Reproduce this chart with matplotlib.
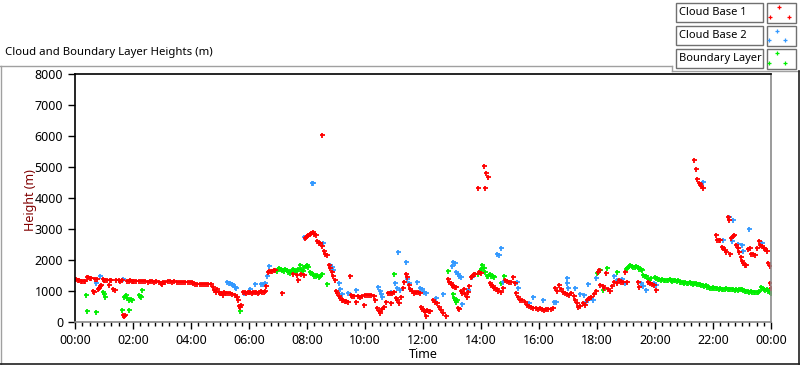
import matplotlib.pyplot as plt
from matplotlib.patches import Rectangle
from matplotlib.lines import Line2D
import numpy as np

plt.rcParams['font.family'] = ['Noto Sans', 'DejaVu Sans']

# (hour of day, height m)
red_pts = [
    (0.00, 1400), (0.05, 1390), (0.10, 1370), (0.15, 1350), (0.20, 1330), (0.25, 1320), (0.30, 1310),
    (0.35, 1330), (0.40, 1440), (0.45, 1450), (0.50, 1430), (0.55, 1420), (0.62, 1000), (0.66, 960),
    (0.70, 1400), (0.75, 1390), (0.78, 1050), (0.82, 1100), (0.86, 1150), (0.90, 1190), (0.95, 1380),
    (1.00, 1360), (1.05, 1350), (1.10, 1340), (1.17, 1190), (1.20, 1350), (1.25, 1340), (1.32, 1060),
    (1.38, 1040), (1.42, 1350), (1.50, 1340), (1.55, 1330), (1.62, 1340), (1.66, 230), (1.70, 200),
    (1.74, 240), (1.78, 1330), (1.85, 1320), (1.90, 1340), (1.95, 1330), (2.00, 1320), (2.05, 1330),
    (2.12, 1320), (2.20, 1310), (2.28, 1330), (2.35, 1320), (2.42, 1310), (2.50, 1300), (2.58, 1320),
    (2.65, 1310), (2.72, 1300), (2.80, 1310), (2.88, 1290), (2.95, 1250), (3.00, 1230), (3.05, 1280),
    (3.12, 1300), (3.20, 1320), (3.28, 1310), (3.35, 1300), (3.42, 1310), (3.50, 1300), (3.58, 1290),
    (3.65, 1300), (3.72, 1290), (3.80, 1300), (3.88, 1290), (3.95, 1280), (4.02, 1290), (4.08, 1270),
    (4.15, 1230), (4.22, 1220), (4.30, 1230), (4.38, 1220), (4.45, 1230), (4.52, 1220), (4.60, 1230),
    (4.68, 1220), (4.75, 1130), (4.80, 1040), (4.85, 960), (4.90, 1080), (4.95, 960), (5.00, 950),
    (5.05, 920), (5.10, 880), (5.15, 960), (5.20, 940), (5.28, 920), (5.35, 940), (5.42, 900),
    (5.50, 860), (5.58, 820), (5.62, 720), (5.66, 530), (5.70, 480), (5.74, 560), (5.80, 980),
    (5.85, 960), (5.90, 950), (5.95, 970), (6.00, 980), (6.05, 960), (6.10, 950), (6.15, 970),
    (6.20, 980), (6.25, 960), (6.30, 950), (6.35, 980), (6.40, 990), (6.45, 970), (6.50, 960),
    (6.55, 990), (6.60, 1150), (6.65, 1620), (6.70, 1650), (6.75, 1640), (6.80, 1660), (6.85, 1680),
    (6.90, 1690), (7.15, 950), (7.50, 1550), (7.65, 1520), (7.70, 1350), (7.80, 1550), (7.88, 1520),
    (7.92, 2700), (7.95, 2750), (8.00, 2760), (8.05, 2800), (8.10, 2850), (8.15, 2870), (8.20, 2890),
    (8.25, 2850), (8.30, 2800), (8.35, 2600), (8.40, 2560), (8.45, 2540), (8.53, 6030), (8.52, 2450),
    (8.58, 2300), (8.62, 2200), (8.68, 2150), (8.75, 1850), (8.80, 1750), (8.85, 1600), (8.90, 1500),
    (8.95, 1350), (9.00, 1000), (9.05, 950), (9.10, 850), (9.15, 780), (9.20, 720), (9.25, 700),
    (9.30, 680), (9.35, 670), (9.40, 650), (9.48, 1480), (9.52, 860), (9.55, 850), (9.62, 830),
    (9.70, 650), (9.75, 840), (9.82, 820), (9.88, 850), (9.95, 550), (10.00, 870), (10.08, 880),
    (10.15, 870), (10.22, 860), (10.30, 850), (10.35, 700), (10.42, 450), (10.48, 350), (10.52, 300),
    (10.58, 420), (10.65, 500), (10.72, 650), (10.78, 930), (10.85, 950), (10.88, 620), (10.92, 920),
    (11.00, 960), (11.08, 770), (11.12, 720), (11.18, 620), (11.25, 800), (11.32, 1100), (11.36, 1300),
    (11.40, 1550), (11.45, 1450), (11.50, 1200), (11.55, 1080), (11.62, 1000), (11.68, 950),
    (11.75, 980), (11.82, 960), (11.88, 950), (11.92, 480), (11.98, 420), (12.02, 380), (12.08, 330),
    (12.10, 190), (12.15, 400), (12.20, 350), (12.25, 370), (12.35, 700), (12.42, 650), (12.48, 610),
    (12.55, 500), (12.62, 400), (12.70, 300), (12.78, 200), (12.85, 1400), (12.90, 1300), (12.95, 1250),
    (13.00, 1200), (13.05, 1150), (13.10, 1140), (13.15, 1120), (13.20, 460), (13.25, 420),
    (13.30, 1000), (13.35, 950), (13.40, 1050), (13.45, 900), (13.50, 820), (13.55, 980), (13.60, 1150),
    (13.65, 1450), (13.70, 1500), (13.75, 1550), (13.80, 1560), (13.88, 4320), (13.92, 1600),
    (14.00, 1580), (14.10, 5030), (14.15, 4320), (14.18, 4800), (14.25, 4680), (14.30, 1260),
    (14.35, 1200), (14.40, 1150), (14.45, 1100), (14.50, 1080), (14.55, 1050), (14.60, 1000),
    (14.68, 970), (14.75, 1100), (14.82, 1350), (14.90, 1330), (14.98, 1300), (15.05, 1280),
    (15.10, 1450), (15.18, 1270), (15.22, 950), (15.28, 800), (15.35, 720), (15.42, 700), (15.50, 660),
    (15.58, 560), (15.65, 520), (15.72, 480), (15.80, 450), (15.88, 440), (15.95, 420), (16.02, 450),
    (16.10, 410), (16.18, 400), (16.25, 430), (16.32, 410), (16.40, 420), (16.48, 450), (16.55, 1100),
    (16.62, 1000), (16.68, 1200), (16.75, 1050), (16.82, 970), (16.90, 950), (16.98, 900), (17.05, 880),
    (17.12, 930), (17.20, 850), (17.25, 700), (17.30, 600), (17.35, 480), (17.42, 520), (17.50, 600),
    (17.58, 550), (17.65, 700), (17.72, 780), (17.80, 820), (17.88, 900), (17.95, 1000), (18.02, 1600),
    (18.06, 1680), (18.12, 1200), (18.20, 1150), (18.25, 1100), (18.32, 1580), (18.38, 1050),
    (18.45, 1000), (18.52, 1150), (18.60, 1300), (18.68, 1270), (18.75, 1350), (18.82, 1300),
    (18.90, 1280), (18.98, 1600), (19.05, 1300), (19.40, 1290), (19.45, 1130), (19.75, 1290),
    (19.82, 1250), (19.90, 1220), (19.95, 1190), (20.02, 1030), (21.35, 5230), (21.40, 4940),
    (21.45, 4600), (21.50, 4500), (21.55, 4450), (21.60, 4380), (21.65, 4320), (22.10, 2800),
    (22.15, 2650), (22.20, 2650), (22.25, 2640), (22.30, 2420), (22.35, 2380), (22.40, 2320),
    (22.45, 2260), (22.50, 3390), (22.55, 3300), (22.60, 2200), (22.62, 2700), (22.68, 2760),
    (22.72, 2820), (22.80, 2500), (22.85, 2400), (22.90, 2260), (22.95, 2100), (23.00, 1980),
    (23.05, 1900), (23.10, 1850), (23.15, 1830), (23.22, 2350), (23.28, 2400), (23.32, 2200),
    (23.38, 2180), (23.45, 2150), (23.52, 2400), (23.58, 2600), (23.62, 2500), (23.70, 2450),
    (23.75, 2400), (23.80, 2350), (23.85, 2300), (23.90, 1900), (23.95, 1800), (23.97, 1250),
    (23.99, 1100),
]

blue_pts = [
    (0.72, 1260), (0.86, 1480), (1.65, 1390), (5.25, 1290), (5.30, 1270), (5.35, 1250), (5.40, 1220),
    (5.45, 1180), (5.50, 1130), (5.55, 1100), (5.82, 940), (6.05, 1060), (6.22, 1230), (6.40, 1230),
    (6.48, 1240), (6.55, 1250), (6.62, 1480), (6.68, 1810), (7.90, 2740), (8.18, 4480), (8.22, 4480),
    (8.55, 2550), (8.80, 1840), (8.85, 1760), (8.90, 1680), (9.10, 1260), (9.15, 1050), (9.20, 900),
    (9.40, 940), (9.70, 1030), (10.45, 1130), (10.50, 1000), (10.55, 900), (10.60, 820), (10.90, 970),
    (11.05, 1260), (11.10, 1100), (11.15, 2260), (11.20, 1030), (11.40, 1940), (11.45, 1400),
    (11.50, 1250), (11.55, 1050), (11.80, 1290), (11.90, 1100), (11.95, 1050), (12.05, 960),
    (12.10, 940), (12.45, 770), (12.70, 900), (13.00, 1800), (13.05, 1940), (13.10, 1900),
    (13.15, 1600), (13.20, 1560), (13.25, 1500), (13.30, 1450), (13.35, 580), (13.55, 1030),
    (13.70, 1450), (14.55, 2200), (14.62, 2160), (14.70, 2390), (14.75, 1290), (15.25, 1290),
    (15.28, 1100), (15.65, 610), (15.80, 800), (16.15, 700), (16.50, 650), (16.60, 650), (16.95, 1420),
    (16.98, 1260), (17.00, 1100), (17.25, 1100), (17.40, 900), (17.55, 870), (17.62, 650),
    (17.70, 1230), (17.75, 780), (17.85, 700), (17.95, 1420), (18.60, 1500), (18.70, 1350),
    (18.85, 1400), (18.95, 1260), (19.50, 1260), (19.60, 1150), (19.70, 1030), (19.95, 1260),
    (20.05, 1190), (21.65, 4520), (22.35, 2650), (22.55, 3390), (22.65, 2610), (22.70, 3290),
    (22.85, 2520), (23.00, 2480), (23.02, 2290), (23.25, 3000), (23.70, 2550),
]

green_pts = [
    (0.38, 870), (0.40, 350), (0.72, 320), (0.97, 970), (1.00, 900), (1.04, 800), (1.62, 390),
    (1.70, 800), (1.75, 870), (1.80, 780), (1.85, 720), (1.87, 390), (1.92, 750), (1.95, 720),
    (2.20, 870), (2.25, 840), (2.28, 820), (2.30, 1030), (5.70, 350), (6.95, 1650), (7.00, 1700),
    (7.05, 1750), (7.10, 1720), (7.15, 1680), (7.20, 1650), (7.25, 1700), (7.30, 1680), (7.35, 1600),
    (7.40, 1580), (7.45, 1650), (7.50, 1700), (7.55, 1680), (7.60, 1620), (7.65, 1650), (7.70, 1700),
    (7.75, 1840), (7.80, 1700), (7.85, 1650), (7.90, 1770), (7.95, 1800), (8.00, 1840), (8.05, 1770),
    (8.10, 1600), (8.15, 1580), (8.20, 1550), (8.25, 1500), (8.30, 1480), (8.35, 1520), (8.40, 1460),
    (8.45, 1500), (8.50, 1550), (8.70, 1230), (11.00, 1550), (12.85, 1650), (13.05, 900), (13.08, 780),
    (13.12, 700), (13.15, 650), (13.18, 720), (13.90, 1550), (13.95, 1650), (14.00, 1700),
    (14.05, 1840), (14.10, 1750), (14.15, 1600), (14.20, 1500), (14.25, 1500), (14.30, 1550),
    (14.35, 1480), (14.40, 1500), (14.45, 1460), (14.70, 1260), (14.80, 1480), (18.00, 1580),
    (18.05, 1620), (18.10, 1680), (18.20, 1030), (18.35, 1740), (18.70, 1610), (19.00, 1700),
    (19.05, 1750), (19.10, 1800), (19.15, 1840), (19.20, 1820), (19.25, 1780), (19.30, 1760),
    (19.35, 1800), (19.40, 1780), (19.45, 1720), (19.50, 1700), (19.55, 1680), (19.60, 1520),
    (19.65, 1480), (19.70, 1500), (19.75, 1400), (19.80, 1350), (19.85, 1420), (20.00, 1450),
    (20.05, 1420), (20.10, 1380), (20.15, 1400), (20.20, 1360), (20.25, 1380), (20.30, 1350),
    (20.35, 1370), (20.40, 1340), (20.45, 1360), (20.50, 1380), (20.55, 1350), (20.60, 1330),
    (20.65, 1360), (20.70, 1340), (20.75, 1320), (20.80, 1350), (20.85, 1300), (20.90, 1290),
    (20.95, 1280), (21.00, 1270), (21.05, 1290), (21.10, 1270), (21.15, 1260), (21.20, 1280),
    (21.25, 1250), (21.30, 1240), (21.35, 1260), (21.40, 1250), (21.45, 1230), (21.50, 1220),
    (21.55, 1240), (21.60, 1200), (21.65, 1190), (21.70, 1160), (21.75, 1200), (21.80, 1140),
    (21.85, 1120), (21.90, 1110), (21.95, 1100), (22.00, 1120), (22.05, 1100), (22.10, 1090),
    (22.15, 1110), (22.20, 1080), (22.25, 1100), (22.30, 1080), (22.35, 1060), (22.40, 1080),
    (22.45, 1100), (22.50, 1070), (22.55, 1060), (22.60, 1050), (22.65, 1080), (22.70, 1060),
    (22.75, 1040), (22.80, 1050), (22.85, 1030), (22.90, 1060), (22.95, 1080), (23.00, 1050),
    (23.05, 1020), (23.10, 1000), (23.15, 990), (23.20, 1000), (23.25, 980), (23.30, 990),
    (23.35, 970), (23.40, 960), (23.45, 980), (23.50, 970), (23.55, 960), (23.60, 1000),
    (23.65, 1130), (23.70, 1100), (23.75, 1050), (23.80, 1030), (23.85, 1080), (23.90, 1000),
    (23.95, 970), (23.99, 950),
]

series_names = ['Cloud Base 1', 'Cloud Base 2', 'Boundary Layer']
series_cols = ['#ff0000', '#3399ff', '#00ee00']
hour_ticks = list(range(0, 25, 2))
hour_labels = ['00:00', '02:00', '04:00', '06:00', '08:00', '10:00', '12:00',
               '14:00', '16:00', '18:00', '20:00', '22:00', '00:00']
height_ticks = list(range(0, 8001, 1000))

W, H = 800, 365
def fx(x):
    return x / W
def fy(y):
    return 1 - y / H

fig = plt.figure(figsize=(8, 3.65), dpi=100)
ax = fig.add_axes([fx(75), fy(322), fx(771) - fx(75), fy(74) - fy(322)])

# green under, red on top
for pts, col in ((green_pts, series_cols[2]), (blue_pts, series_cols[1]), (red_pts, series_cols[0])):
    t, h = np.array(pts).T
    ax.plot(t, h, ls='none', marker='+', ms=3.6, mew=1.3, color=col)

ax.set_xlim(0, 24)
ax.set_ylim(0, 8000)
ax.set_xticks(hour_ticks)
ax.set_xticklabels(hour_labels)
ax.set_xticks(np.arange(0, 24.01, 0.25), minor=True)
ax.set_yticks(height_ticks)
ax.set_yticklabels([str(v) for v in height_ticks])
ax.tick_params(axis='both', which='major', length=5, width=1, labelsize=9, colors='black')
ax.tick_params(axis='x', which='minor', length=3, width=1)
ax.tick_params(axis='y', which='minor', length=0)
ax.spines['left'].set_color('black')
ax.spines['top'].set_color('black')
ax.spines['right'].set_color('#8a8a8a')
ax.spines['bottom'].set_color('#8a8a8a')
for s in ax.spines.values():
    s.set_linewidth(1.2)
ax.set_xlabel('Time', fontsize=9, labelpad=1)
ax.set_ylabel('Height (m)', fontsize=9, color='#800000')
ax.yaxis.set_label_coords(-0.054, 0.49)

# title of the panel
fig.text(fx(5), fy(53), 'Cloud and Boundary Layer Heights (m)', fontsize=8.2, va='center', ha='left')

# panel frame
def line(x0, y0, x1, y1, col, lw=1):
    fig.add_artist(Line2D([fx(x0), fx(x1)], [fy(y0), fy(y1)], transform=fig.transFigure,
                          color=col, lw=lw))
line(0, 66, 672, 66, '#a0a0a0')
line(672, 66, 672, 71, '#a0a0a0')
line(672, 71, 800, 71, '#a0a0a0')
line(1, 66, 1, 364, '#a0a0a0')
line(0, 363.5, 800, 363.5, '#202020', 1.2)
line(799, 71, 799, 364, '#202020', 1.2)

# legend boxes
rows = [(3, 22), (26, 45), (49, 68)]
marks = [((779, 7), (770, 17), (789, 17)), ((777, 31), (769, 40), (785, 40)),
         ((777, 53), (769, 63), (785, 63))]
for (y0, y1), name, col, mk in zip(rows, series_names, series_cols, marks):
    fig.add_artist(Rectangle((fx(676), fy(y1)), fx(763) - fx(676), fy(y0) - fy(y1),
                             transform=fig.transFigure, facecolor='white', edgecolor='#707070', lw=1))
    fig.text(fx(679), fy((y0 + y1) / 2), name, fontsize=8.0, va='center', ha='left')
    fig.add_artist(Rectangle((fx(767), fy(y1 + 1)), fx(796) - fx(767), fy(y0) - fy(y1 + 1),
                             transform=fig.transFigure, facecolor='white', edgecolor='#707070', lw=1))
    for mx, my in mk:
        fig.add_artist(Line2D([fx(mx)], [fy(my)], transform=fig.transFigure, ls='none',
                              marker='+', ms=2.6, mew=0.9, color=col))

fig.savefig('out.png', dpi=100)
